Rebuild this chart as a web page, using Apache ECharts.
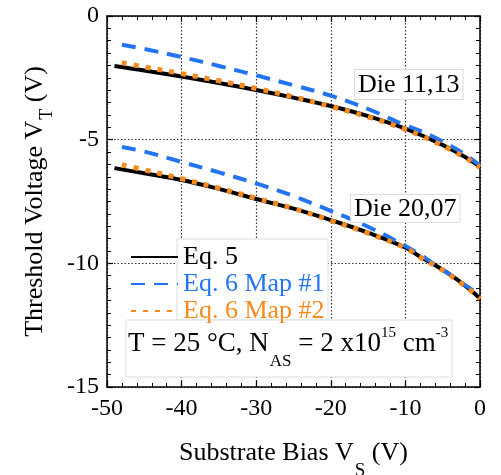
<!DOCTYPE html>
<html>
<head>
<meta charset="utf-8">
<script src="https://cdn.jsdelivr.net/npm/echarts@6/dist/echarts.min.js"></script>
<style>
  html, body { margin: 0; padding: 0; background: #fff; }
  #chart { width: 501px; height: 475px; }
</style>
</head>
<body>
<div id="chart"></div>
<script>
  // substrate bias values (V)
  var vsEq5 = [-49, -45, -40, -35, -30, -25, -20, -15, -10, -8, -6, -4, -2, -1, 0];
  var vsMap = [-48, -45, -40, -35, -30, -25, -20, -15, -10, -8, -6, -4, -2, -1, 0];

  // Die 11,13
  var eq5A  = [-2.02, -2.20, -2.45, -2.71, -2.99, -3.30, -3.64, -4.05, -4.55, -4.80, -5.07, -5.37, -5.70, -5.89, -6.10];
  var map1A = [-1.16, -1.33, -1.66, -2.02, -2.40, -2.80, -3.22, -3.76, -4.42, -4.64, -4.92, -5.24, -5.60, -5.82, -6.05];
  var map2A = [-1.89, -2.06, -2.33, -2.62, -2.93, -3.27, -3.66, -4.08, -4.58, -4.83, -5.10, -5.40, -5.73, -5.92, -6.12];

  // Die 20,07
  var eq5B  = [-6.15, -6.36, -6.63, -6.99, -7.40, -7.79, -8.25, -8.76, -9.36, -9.74, -10.08, -10.46, -10.90, -11.15, -11.42];
  var map1B = [-5.30, -5.48, -5.90, -6.32, -6.77, -7.28, -7.88, -8.52, -9.30, -9.66, -10.06, -10.46, -10.88, -11.08, -11.30];
  var map2B = [-6.02, -6.22, -6.58, -6.96, -7.37, -7.78, -8.27, -8.78, -9.38, -9.76, -10.10, -10.48, -10.92, -11.17, -11.44];

  var FONT = 'Liberation Serif';
  var BLACK = '#000000', BLUE = '#2374f0', ORANGE = '#f78a1d';

  function pairs(xs, ys) {
    return xs.map(function (x, i) { return [x, ys[i]]; });
  }

  function line(name, xs, ys, color, width, type) {
    return {
      name: name,
      type: 'line',
      data: pairs(xs, ys),
      smooth: 0.4,
      symbol: 'none',
      showSymbol: false,
      lineStyle: { color: color, width: width, type: type, cap: 'butt' },
      itemStyle: { color: color }
    };
  }

  var myChart = echarts.init(document.getElementById('chart'), null, { renderer: 'canvas' });

  var tickStyle = { show: true, inside: true, length: 6, lineStyle: { color: '#000', width: 1.2 } };
  var minorStyle = { show: true, length: 4, lineStyle: { color: '#000', width: 1 } };
  var gridLine = { show: true, lineStyle: { color: '#333', width: 1.2, type: [1.5, 2] } };

  var option = {
    animation: false,
    backgroundColor: '#fff',
    grid: { left: 107, right: 21, top: 16, bottom: 88, outerBoundsMode: 'none', containLabel: false },
    legend: {
      orient: 'vertical',
      left: 125,
      top: 239,
      itemWidth: 47,
      itemHeight: 14,
      itemGap: 1,
      z: 6,
      itemStyle: { opacity: 0 },
      textStyle: { fontFamily: FONT, fontSize: 26, lineHeight: 26 },
      data: [
        { name: 'Eq. 5', textStyle: { color: BLACK } },
        { name: 'Eq. 6 Map #1', textStyle: { color: BLUE } },
        { name: 'Eq. 6 Map #2', textStyle: { color: ORANGE } }
      ]
    },
    xAxis: [{
      type: 'value', min: -50, max: 0, interval: 10,
      position: 'bottom',
      name: 'Substrate Bias V{s|S} (V)',
      nameLocation: 'middle',
      nameGap: 53,
      nameTextStyle: {
        fontFamily: FONT, fontSize: 26, color: '#000',
        rich: {
          s: { fontFamily: FONT, fontSize: 19, lineHeight: 19, verticalAlign: 'top', padding: [22, 0, 0, 1], color: '#000' }
        }
      },
      axisLine: { show: true, onZero: false, lineStyle: { color: '#000', width: 1.5 } },
      axisTick: tickStyle,
      minorTick: Object.assign({ splitNumber: 5 }, minorStyle),
      axisLabel: { fontFamily: FONT, fontSize: 24, color: '#000', margin: 10 },
      splitLine: gridLine
    }, {
      type: 'value', min: -50, max: 0, interval: 10,
      position: 'top',
      axisLine: { show: true, onZero: false, lineStyle: { color: '#000', width: 1.5 } },
      axisTick: tickStyle,
      minorTick: Object.assign({ splitNumber: 5 }, minorStyle),
      axisLabel: { show: false },
      splitLine: { show: false }
    }],
    yAxis: [{
      type: 'value', min: -15, max: 0, interval: 5,
      position: 'left',
      name: 'Threshold Voltage V{s|T} (V)',
      nameLocation: 'middle',
      nameRotate: 90,
      nameGap: 46,
      nameTextStyle: {
        fontFamily: FONT, fontSize: 26, color: '#000',
        rich: {
          s: { fontFamily: FONT, fontSize: 18, lineHeight: 18, verticalAlign: 'top', padding: [16, 0, 0, 1], color: '#000' }
        }
      },
      axisLine: { show: true, onZero: false, lineStyle: { color: '#000', width: 1.5 } },
      axisTick: tickStyle,
      minorTick: Object.assign({ splitNumber: 10 }, minorStyle),
      axisLabel: { fontFamily: FONT, fontSize: 24, color: '#000', margin: 8 },
      splitLine: gridLine
    }, {
      type: 'value', min: -15, max: 0, interval: 5,
      position: 'right',
      axisLine: { show: true, onZero: false, lineStyle: { color: '#000', width: 1.5 } },
      axisTick: tickStyle,
      minorTick: Object.assign({ splitNumber: 10 }, minorStyle),
      axisLabel: { show: false },
      splitLine: { show: false }
    }],
    series: [
      line('Eq. 5', vsEq5, eq5A, BLACK, 4, 'solid'),
      line('Eq. 5', vsEq5, eq5B, BLACK, 4, 'solid'),
      line('Eq. 6 Map #1', vsMap, map1A, BLUE, 4, [14, 9]),
      line('Eq. 6 Map #1', vsMap, map1B, BLUE, 4, [14, 9]),
      line('Eq. 6 Map #2', vsMap, map2A, ORANGE, 5, [5, 7]),
      line('Eq. 6 Map #2', vsMap, map2B, ORANGE, 5, [5, 7])
    ],
    graphic: [
      // white panel behind legend text
      { type: 'rect', z: 3, shape: { x: 177, y: 239, width: 151, height: 81 },
        style: { fill: '#fff', stroke: '#dddddd', lineWidth: 1 } },
      // conditions box
      { type: 'rect', z: 3, shape: { x: 126, y: 320, width: 326, height: 57 },
        style: { fill: '#fff', stroke: '#dddddd', lineWidth: 1 } },
      { type: 'text', z: 7, x: 128, y: 326,
        style: {
          text: '{m|T = 25 °C, N}{b|AS}{m| = 2 x10}{p|15}{m| cm}{p|-3}',
          fill: '#000',
          rich: {
            m: { fontFamily: FONT, fontSize: 27, lineHeight: 27, verticalAlign: 'top', padding: [4, 0, 0, 0], fill: '#000' },
            b: { fontFamily: FONT, fontSize: 17, lineHeight: 17, verticalAlign: 'top', padding: [27, 0, 0, 1], fill: '#000' },
            p: { fontFamily: FONT, fontSize: 15, lineHeight: 15, verticalAlign: 'top', padding: [0, 0, 0, 0], fill: '#000' }
          }
        } },
      // die labels
      { type: 'text', z: 7, x: 355, y: 70,
        style: { text: 'Die 11,13', font: '26px "Liberation Serif"', fill: '#000', lineHeight: 26,
          backgroundColor: '#fff', borderColor: '#dddddd', borderWidth: 1, padding: [2, 3, 1, 3] } },
      { type: 'text', z: 7, x: 351, y: 195,
        style: { text: 'Die 20,07', font: '26px "Liberation Serif"', fill: '#000', lineHeight: 26,
          backgroundColor: '#fff', borderColor: '#dddddd', borderWidth: 1, padding: [1, 3, 0, 3] } }
    ]
  };

  myChart.setOption(option);
</script>
</body>
</html>
